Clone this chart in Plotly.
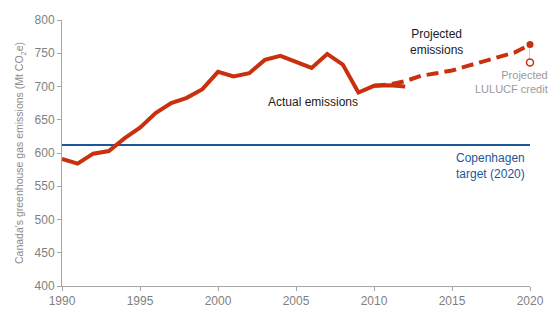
import plotly.graph_objects as go

actual_years = list(range(1990, 2013))
actual_vals = [591, 584, 599, 603, 622, 638, 660, 675, 683, 696, 722, 715, 720, 740, 746, 737, 728, 749, 733, 691, 701, 702, 700]

proj_years = list(range(2010, 2021))
proj_vals = [701, 703, 708, 716, 720, 724, 731, 738, 744, 751, 763]

target_years = [1990, 2020]
target_vals = [612, 612]

lulucf_year = [2020, 2020]
lulucf_vals = [763, 736]

RED = "#c8300e"
BLUE = "#1b5797"

fig = go.Figure()
fig.add_trace(go.Scatter(x=target_years, y=target_vals, mode="lines",
                         line=dict(color=BLUE, width=2.2), hoverinfo="skip"))
fig.add_trace(go.Scatter(x=lulucf_year, y=lulucf_vals, mode="lines",
                         line=dict(color="#a0a0a0", width=1), hoverinfo="skip"))
fig.add_trace(go.Scatter(x=proj_years, y=proj_vals, mode="lines",
                         line=dict(color=RED, width=4, dash="12px,6px"), hoverinfo="skip"))
fig.add_trace(go.Scatter(x=actual_years, y=actual_vals, mode="lines",
                         line=dict(color=RED, width=4), hoverinfo="skip"))
fig.add_trace(go.Scatter(x=[lulucf_year[0]], y=[lulucf_vals[0]], mode="markers",
                         marker=dict(color=RED, size=7), hoverinfo="skip", cliponaxis=False))
fig.add_trace(go.Scatter(x=[lulucf_year[1]], y=[lulucf_vals[1]], mode="markers",
                         marker=dict(color="white", size=7, line=dict(color=RED, width=1.5)),
                         hoverinfo="skip", cliponaxis=False))

font = "Liberation Sans, Arial, sans-serif"
fig.update_layout(
    width=556, height=322,
    margin=dict(l=62, r=26, t=20, b=36),
    plot_bgcolor="white", paper_bgcolor="white",
    showlegend=False,
    font=dict(family=font, size=12, color="#7f7f7f"),
    xaxis=dict(range=[1990, 2020], tickvals=[1990, 1995, 2000, 2005, 2010, 2015, 2020],
               showgrid=False, zeroline=False, showline=True, linecolor="#a6a6a6", linewidth=1,
               ticks="outside", ticklen=4, tickcolor="#a6a6a6",
               tickfont=dict(size=12, color="#7f7f7f")),
    yaxis=dict(range=[400, 800], tickvals=[400, 450, 500, 550, 600, 650, 700, 750, 800],
               showgrid=False, zeroline=False, showline=True, linecolor="#a6a6a6", linewidth=1,
               ticks="outside", ticklen=4, tickcolor="#a6a6a6",
               tickfont=dict(size=12, color="#7f7f7f"),
               title=dict(text="Canada's greenhouse gas emissions (Mt CO<sub>2</sub>e)",
                          font=dict(size=10.5, color="#8c8c8c"), standoff=8)),
)

fig.add_annotation(x=2006.1, y=676, text="Actual emissions", showarrow=False,
                   font=dict(size=12, color="#1a1a1a"), xanchor="center", yanchor="middle")
fig.add_annotation(x=2014.0, y=767, text="Projected<br>emissions", showarrow=False,
                   font=dict(size=12, color="#1a1a1a"), xanchor="center", yanchor="middle")
fig.add_annotation(x=2019.8, y=580, text="Copenhagen<br>target (2020)", showarrow=False,
                   font=dict(size=12, color=BLUE), xanchor="right", yanchor="middle", align="right")
fig.add_annotation(x=1.0, xref="paper", xshift=20, y=707, text="Projected<br>LULUCF credit",
                   showarrow=False, font=dict(size=11, color="#9a9a9a"),
                   xanchor="right", yanchor="middle", align="right")

fig.write_html("out.html")
